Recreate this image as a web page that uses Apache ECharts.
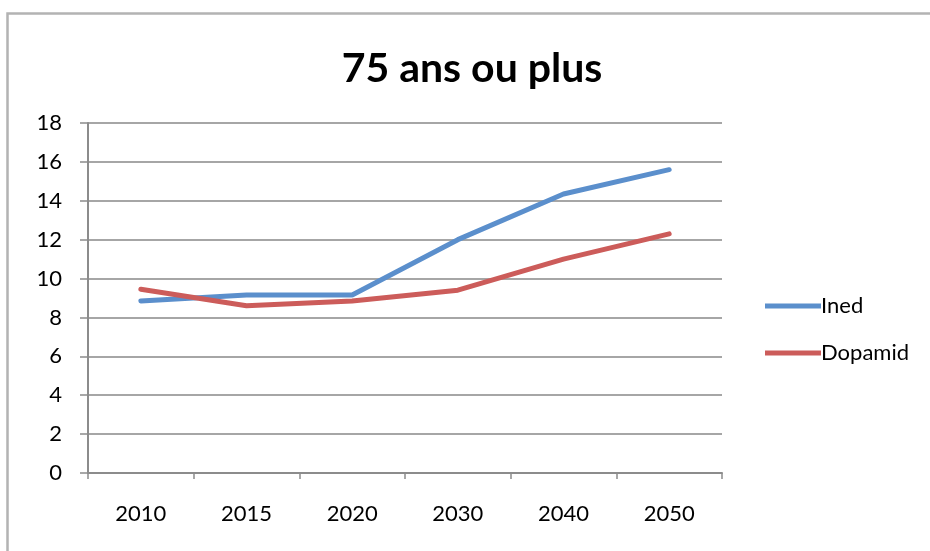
<!DOCTYPE html>
<html>
<head>
<meta charset="utf-8">
<script src="https://cdn.jsdelivr.net/npm/echarts@6/dist/echarts.min.js"></script>
<style>
  html, body { margin: 0; padding: 0; background: #fff; }
  #chart { width: 930px; height: 551px; }
</style>
</head>
<body>
<div id="chart"></div>
<script>
// années (catégories) et séries
const years = ['2010', '2015', '2020', '2030', '2040', '2050'];
const ined = [8.85, 9.15, 9.15, 12.0, 14.35, 15.6];
const dopamid = [9.45, 8.6, 8.85, 9.4, 11.0, 12.3];
const titleText = '75 ans ou plus';

const font = 'Lato, "Open Sans", sans-serif';

const chart = echarts.init(document.getElementById('chart'));
chart.setOption({
  animation: false,
  backgroundColor: '#fff',
  graphic: [{
    // cadre gris autour du graphique
    type: 'rect',
    left: 5, top: 11,
    shape: { width: 1000, height: 1000 },
    style: { fill: 'none', stroke: '#b3b3b3', lineWidth: 2.5 }
  }],
  title: {
    text: titleText,
    left: 467, top: 43,
    textAlign: 'center',
    textStyle: { fontFamily: font, fontWeight: 'bold', fontSize: 41, color: '#000' }
  },
  legend: {
    orient: 'vertical',
    left: 760, top: 290,
    itemWidth: 56, itemHeight: 5, itemGap: 25,
    icon: 'rect',
    textStyle: { fontFamily: font, fontSize: 22, color: '#000', padding: [0, 0, 0, -5] },
    data: ['Ined', 'Dopamid']
  },
  grid: { left: 88, top: 123, width: 634, height: 350, containLabel: false },
  xAxis: {
    type: 'category',
    data: years,
    boundaryGap: true,
    axisLine: { lineStyle: { color: '#8c8c8c', width: 2 } },
    axisTick: { show: true, length: 6, alignWithLabel: false, lineStyle: { color: '#8c8c8c', width: 1.5 } },
    axisLabel: { fontFamily: font, fontSize: 22, color: '#000', margin: 30 }
  },
  yAxis: {
    type: 'value',
    min: 0, max: 18, interval: 2,
    axisLine: { show: true, lineStyle: { color: '#8c8c8c', width: 2 } },
    axisTick: { show: true, length: 8, lineStyle: { color: '#8c8c8c', width: 1.5 } },
    axisLabel: { fontFamily: font, fontSize: 22, color: '#000', margin: 26 },
    splitLine: { lineStyle: { color: '#a6a6a6', width: 2 } }
  },
  series: [
    {
      name: 'Ined', type: 'line', data: ined,
      symbol: 'none', smooth: false,
      lineStyle: { color: '#5b8fcc', width: 5, cap: 'round' },
      itemStyle: { color: '#5b8fcc' }
    },
    {
      name: 'Dopamid', type: 'line', data: dopamid,
      symbol: 'none', smooth: false,
      lineStyle: { color: '#cc5c5a', width: 5, cap: 'round' },
      itemStyle: { color: '#cc5c5a' }
    }
  ]
});
</script>
</body>
</html>
